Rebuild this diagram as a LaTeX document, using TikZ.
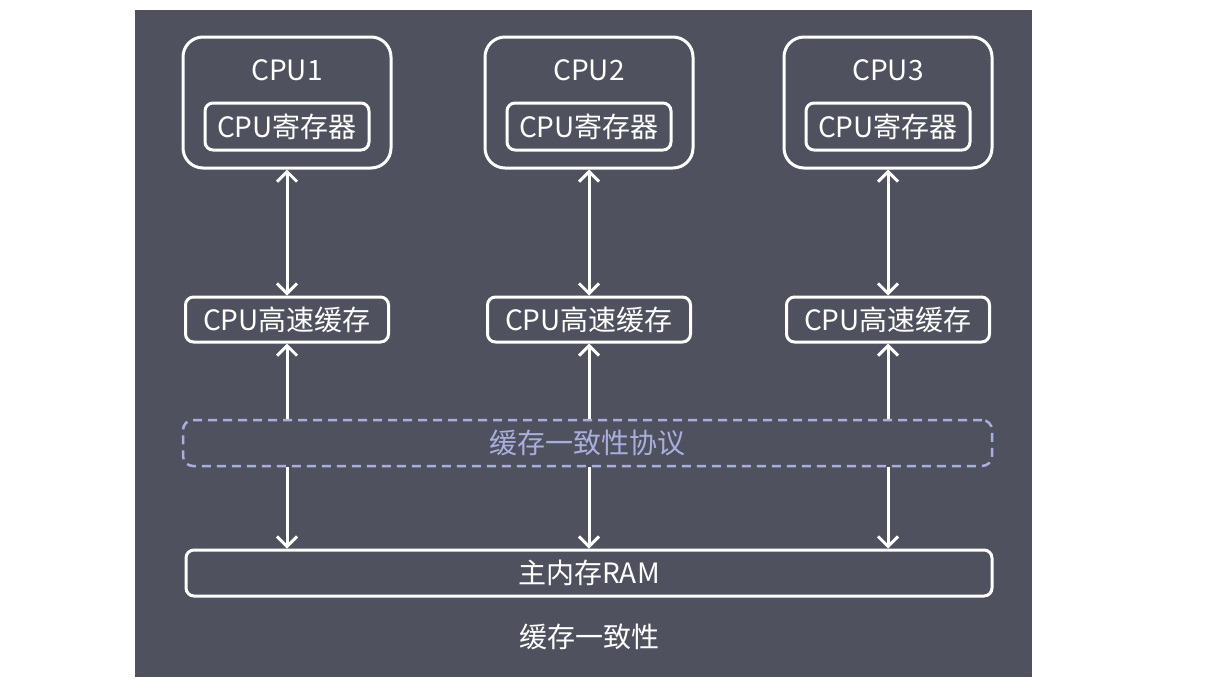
\documentclass[tikz,border=0pt]{standalone}
\usepackage{fontspec}
\setmainfont{Noto Sans CJK SC}
\usetikzlibrary{arrows.meta}
\definecolor{bgslate}{HTML}{4F525E}
\definecolor{protoblue}{HTML}{A9AEDC}

\begin{document}
\begin{tikzpicture}[x=1pt, y=-1pt, >={Straight Barb[length=10pt,width=20pt]},
    every node/.style={text=white, font=\fontsize{28}{32}\selectfont, inner sep=0pt},
    cpubox/.style={draw=white, line width=3pt, rounded corners=20pt, minimum width=208pt, minimum height=131pt},
    regbox/.style={draw=white, line width=3pt, rounded corners=8pt, minimum width=164pt, minimum height=47pt},
    cachebox/.style={draw=white, line width=3pt, rounded corners=8pt, minimum width=203pt, minimum height=45pt},
    protobox/.style={draw=protoblue, text=protoblue, line width=2.5pt, dash pattern=on 9pt off 6pt, rounded corners=10pt, minimum width=809pt, minimum height=46pt},
    rambox/.style={draw=white, line width=3pt, rounded corners=8pt, minimum width=806pt, minimum height=46pt}]
    \useasboundingbox (0,0) rectangle (1218,691);
    \fill[bgslate] (135,10) rectangle (1032,677);
    % Nodes
    \foreach \i/\x in {1/287, 2/589, 3/888} {
        \node[cpubox] (cpu\i) at (\x, 102.5) {};
        \node (name\i) at (\x, 70) {CPU\i};
        \node[regbox] (reg\i) at (\x, 126.5) {CPU寄存器};
        \node[cachebox] (cache\i) at (\x, 319.5) {CPU高速缓存};
    }
    \node[protobox] (proto) at (587.5, 443) {缓存一致性协议};
    \node[rambox] (ram) at (589, 573) {主内存RAM};
    \node (title) at (589, 637) {缓存一致性};
    % Arrows connecting the nodes
    \foreach \i in {1, 2, 3} {
        \draw[<->, white, line width=3pt] (cpu\i) -- (cache\i);
        \draw[->, white, line width=3pt] (cache\i.south |- proto.north) -- (cache\i);
        \draw[->, white, line width=3pt] (cache\i.south |- proto.south) -- (cache\i.south |- ram.north);
    }
\end{tikzpicture}
\end{document}
